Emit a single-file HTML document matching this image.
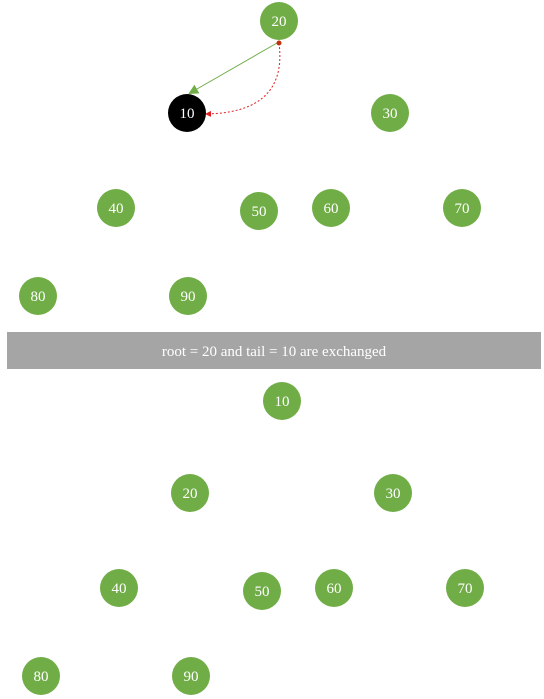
<!DOCTYPE html>
<html><head><meta charset="utf-8"><style>
body{margin:0;width:544px;height:699px;background:#fff;overflow:hidden}
svg{position:absolute;left:0;top:0}
svg text{font-family:"Liberation Serif",serif}
</style></head><body>
<svg id="s" width="544" height="699">
<defs>
<marker id="ga" markerWidth="10" markerHeight="10" refX="8" refY="5" orient="auto" markerUnits="userSpaceOnUse"><path d="M0,0 L10,5 L0,10 z" fill="#70ad47"/></marker>
<marker id="ra" markerWidth="6" markerHeight="6" refX="5" refY="3" orient="auto" markerUnits="userSpaceOnUse"><path d="M0,0 L6,3 L0,6 z" fill="#e02020"/></marker>
</defs>
<line x1="277" y1="43" x2="190" y2="93" stroke="#70ad47" stroke-width="1" marker-end="url(#ga)"/>
<path d="M279,43 C285,90 260,113 206,114" fill="none" stroke="#e02020" stroke-width="1" stroke-dasharray="2,2" marker-end="url(#ra)"/>
<circle cx="279" cy="43" r="2.5" fill="#c03010"/>
<rect x="7" y="332" width="534" height="37" fill="#a5a5a5"/>
<text x="274" y="356" text-anchor="middle" fill="#fff" font-size="15">root = 20 and tail = 10 are exchanged</text>
</svg>
<script>
const topValues=[20,10,30,40,50,60,70,80,90];
const topX=[279,187,390,116,259,331,462,38,188];
const topY=[21,113,113,208,211,208,208,296,296];
const botValues=[10,20,30,40,50,60,70,80,90];
const dx=3, dy=380;
const s=document.getElementById('s');
const NS='http://www.w3.org/2000/svg';
function node(v,x,y,fill,name){
  const g=document.createElementNS(NS,'g');
  
  
  const c=document.createElementNS(NS,'circle');
  c.setAttribute('cx',x);c.setAttribute('cy',y);c.setAttribute('r',19);c.setAttribute('fill',fill);
  const t=document.createElementNS(NS,'text');
  t.setAttribute('x',x);t.setAttribute('y',y+5);t.setAttribute('text-anchor','middle');
  t.setAttribute('fill','#fff');t.setAttribute('font-size','15');
  t.textContent=v;
  g.appendChild(c);g.appendChild(t);s.appendChild(g);
}
topValues.forEach((v,i)=>node(v,topX[i],topY[i],v===10?'#000':'#70ad47','top-node-'+v));
botValues.forEach((v,i)=>node(v,topX[i]+dx,topY[i]+dy,'#70ad47','bottom-node-'+v));
</script>
</body></html>
